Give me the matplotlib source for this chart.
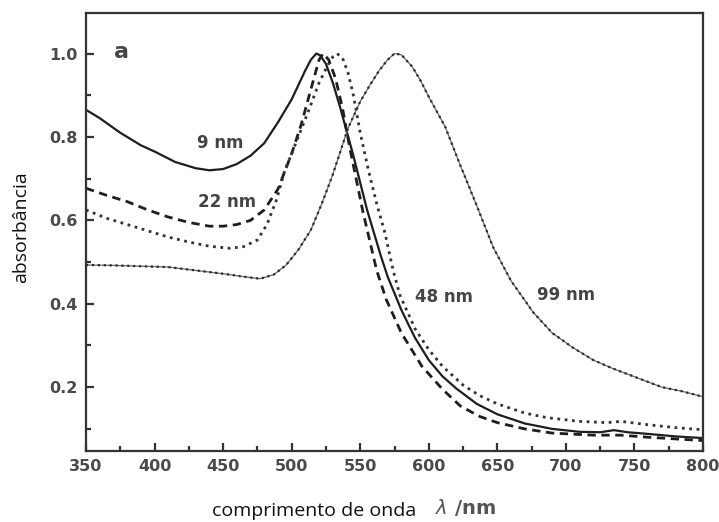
import numpy as np
import matplotlib
matplotlib.use('Agg')
import matplotlib.pyplot as plt
from matplotlib.ticker import MultipleLocator

# 9 nm (solid)
wl9 = [350, 360, 375, 390, 400, 415, 430, 440, 450, 460, 470, 480, 490, 500, 505, 510, 514, 518,
       521, 525, 530, 535, 540, 545, 550, 555, 560, 565, 570, 580, 590, 600, 610, 620, 635, 650,
       670, 690, 710, 725, 735, 745, 760, 780, 800]
ab9 = [0.865, 0.845, 0.81, 0.78, 0.765, 0.74, 0.725, 0.72, 0.723, 0.735, 0.755, 0.785, 0.835, 0.89,
       0.925, 0.96, 0.985, 1.0, 0.995, 0.975, 0.93, 0.875, 0.815, 0.755, 0.69, 0.625, 0.57, 0.515,
       0.465, 0.385, 0.318, 0.265, 0.226, 0.197, 0.16, 0.135, 0.113, 0.1, 0.093, 0.092, 0.097,
       0.092, 0.088, 0.082, 0.078]

# 22 nm (dashed)
wl22 = [350, 365, 380, 395, 410, 425, 440, 450, 460, 470, 480, 490, 500, 507, 512, 517, 520, 523,
        527, 532, 537, 542, 547, 552, 557, 562, 569, 580, 595, 610, 623, 637, 650, 670, 690, 720,
        740, 760, 800]
ab22 = [0.677, 0.66, 0.645, 0.625, 0.608, 0.595, 0.586, 0.586, 0.59, 0.6, 0.625, 0.675, 0.76, 0.83,
        0.89, 0.95, 0.985, 1.0, 0.985, 0.94, 0.87, 0.78, 0.7, 0.62, 0.55, 0.48, 0.41, 0.33, 0.25,
        0.195, 0.155, 0.13, 0.115, 0.1, 0.09, 0.085, 0.085, 0.08, 0.072]

# 48 nm (dotted)
wl48 = [350, 365, 380, 395, 410, 425, 440, 455, 465, 475, 482, 489, 495, 500, 506, 512, 520, 526,
        530, 533, 537, 541, 545, 550, 556, 562, 568, 574, 579, 590, 600, 610, 625, 637, 650, 670,
        686, 710, 730, 740, 760, 780, 800]
ab48 = [0.625, 0.605, 0.59, 0.575, 0.56, 0.548, 0.538, 0.533, 0.537, 0.553, 0.59, 0.65, 0.72, 0.76,
        0.81, 0.86, 0.93, 0.97, 0.992, 1.0, 0.99, 0.955, 0.9, 0.81, 0.72, 0.64, 0.57, 0.48, 0.42,
        0.34, 0.29, 0.25, 0.205, 0.18, 0.16, 0.138, 0.127, 0.118, 0.115, 0.118, 0.11, 0.103, 0.098]

# 99 nm (line with dots)
wl99 = [350, 370, 390, 410, 430, 450, 465, 477, 487, 496, 505, 514, 522, 530, 541, 550, 557, 564,
        570, 575, 580, 588, 594, 600, 612, 622, 635, 647, 660, 676, 690, 705, 720, 734, 750, 770,
        785, 800]
ab99 = [0.493, 0.492, 0.49, 0.488, 0.48, 0.472, 0.465, 0.46, 0.47, 0.493, 0.53, 0.577, 0.64, 0.71,
        0.82, 0.885, 0.924, 0.96, 0.985, 1.0, 0.997, 0.968, 0.935, 0.896, 0.824, 0.74, 0.635, 0.535,
        0.455, 0.38, 0.33, 0.295, 0.265, 0.245, 0.225, 0.2, 0.19, 0.177]

xticks = [350, 400, 450, 500, 550, 600, 650, 700, 750, 800]
yticks = [0.2, 0.4, 0.6, 0.8, 1.0]
yminor = [0.1, 0.3, 0.5, 0.7, 0.9]

fig = plt.figure(figsize=(7.19, 5.22), dpi=100)
ax = fig.add_axes([0.1196, 0.136, 0.8582, 0.839])

ax.plot(wl9, ab9, '-', color='#1e1e1e', lw=1.6)
ax.plot(wl22, ab22, color='#1e1e1e', lw=2.0, dashes=(3, 2))
ax.plot(wl48, ab48, ':', color='#333333', lw=2.0)
ax.plot(wl99, ab99, '-', color='#666666', lw=0.9)
ax.plot(wl99, ab99, ':', color='#2a2a2a', lw=1.6)

ax.set_xlim(350, 800)
ax.set_ylim(0.047, 1.097)
ax.set_xticks(xticks)
ax.set_yticks(yticks)
ax.xaxis.set_minor_locator(MultipleLocator(25))
ax.set_yticks(yminor, minor=True)
ax.set_xticklabels([str(v) for v in xticks])
ax.set_yticklabels(['%.1f' % v for v in yticks])

ax.tick_params(which='major', direction='in', length=6, width=1.6, color='#333333',
               labelsize=11.5, labelcolor='#4a4a4a', pad=6)
ax.tick_params(which='minor', direction='in', length=3.5, width=1.6, color='#333333')
for lab in ax.get_xticklabels() + ax.get_yticklabels():
    lab.set_fontweight('bold')
for s in ax.spines.values():
    s.set_linewidth(1.6)
    s.set_color('#333333')

tc = '#444444'
ax.text(376, 1.003, 'a', fontsize=16, fontweight='bold', color=tc, ha='center', va='center')
ax.text(448, 0.785, '9 nm', fontsize=12, fontweight='bold', color=tc, ha='center', va='center')
ax.text(453, 0.644, '22 nm', fontsize=12, fontweight='bold', color=tc, ha='center', va='center')
ax.text(611, 0.416, '48 nm', fontsize=12, fontweight='bold', color=tc, ha='center', va='center')
ax.text(700, 0.421, '99 nm', fontsize=12, fontweight='bold', color=tc, ha='center', va='center')

fig.text(0.029, 0.565, 'absorbância', rotation=90, fontsize=14, family='Open Sans',
         ha='center', va='center', color='#111111')
fig.text(0.437, 0.021, 'comprimento de onda', fontsize=14, family='Open Sans',
         ha='center', va='center', color='#111111')
fig.text(0.648, 0.027, '$\\lambda$ /nm', fontsize=14, fontweight='bold', color='#555555',
         ha='center', va='center')

fig.savefig('out.png', dpi=100)
